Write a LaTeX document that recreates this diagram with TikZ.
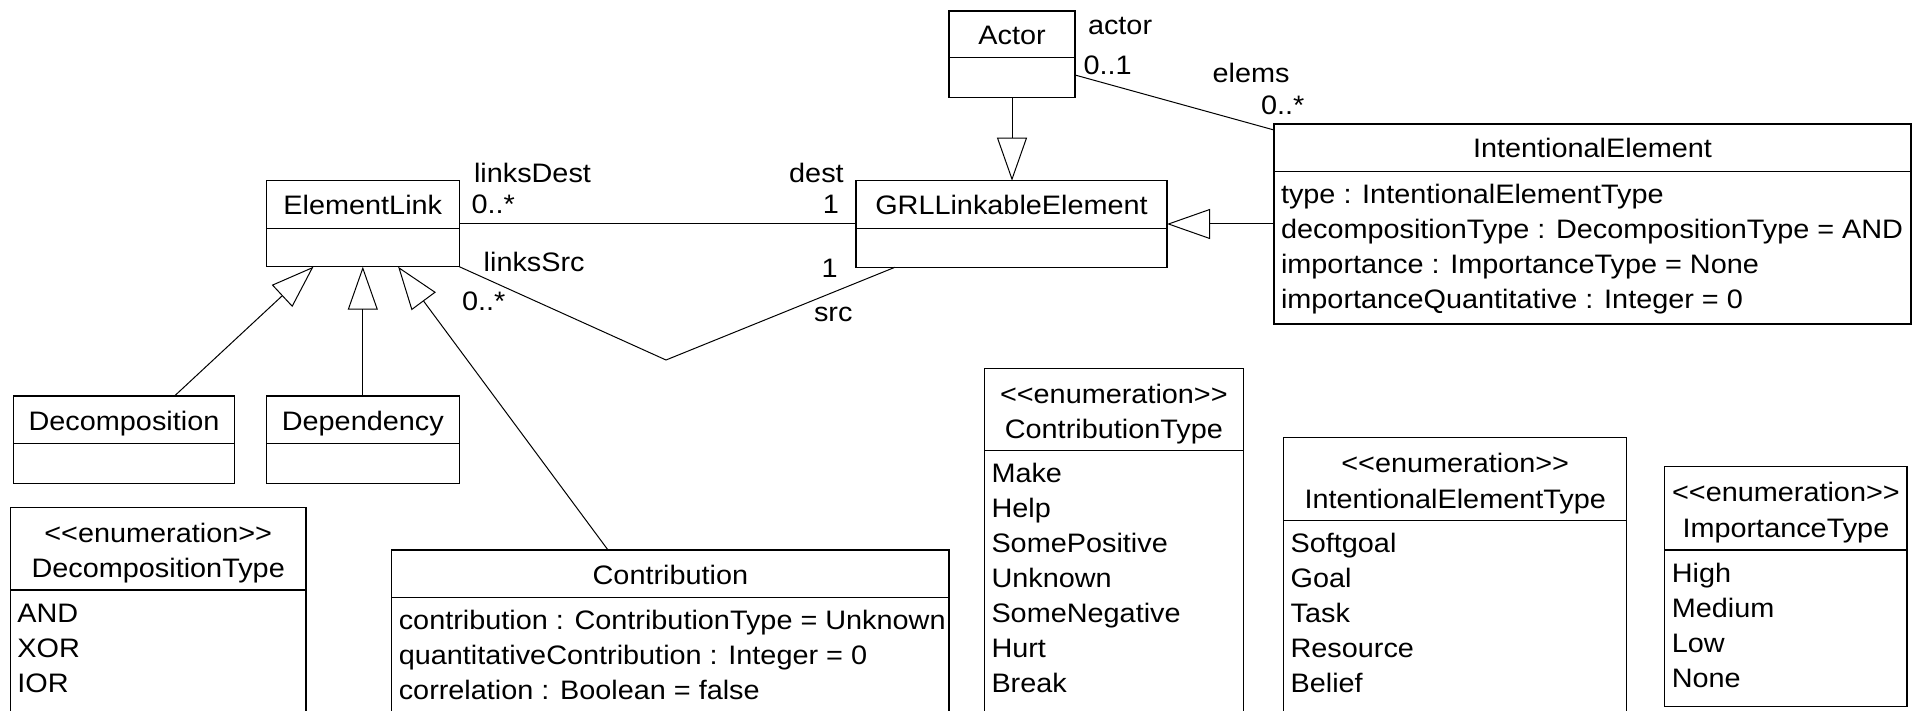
\documentclass[tikz,border=0pt]{standalone}
\usepackage{fontspec}
\setmainfont{Liberation Sans}[FakeStretch=1.08]
\usetikzlibrary{arrows.meta,calc}
\newcommand{\umlbox}[6]{%
  \node[cls, minimum width=#4pt, minimum height=#5pt] (#1) at (#2,#3) {};
  \draw[divl] ([yshift=-#6pt]#1.north west) -- ([yshift=-#6pt]#1.north east);}
\newcommand{\umlitems}[3]{%
  \foreach \t [count=\i] in {#3}
    \node[lbl] (#1-\i) at ([xshift=7pt, yshift={-(#2+32+35*(\i-1))}]#1.north west) {\t};}
\newcommand{\stereo}{<\kern0pt<enumeration>\kern0pt>}
\begin{document}
\begin{tikzpicture}[x=1pt,y=-1pt,
  font=\fontsize{26.7}{35}\selectfont,
  cls/.style={draw, line width=1.2pt, inner sep=0pt, outer sep=0pt, anchor=north west},
  divl/.style={line width=1.2pt},
  lbl/.style={inner sep=0pt, outer sep=0pt, anchor=base west},
  lblr/.style={inner sep=0pt, outer sep=0pt, anchor=base east},
  ttl/.style={inner sep=0pt, outer sep=0pt, anchor=base},
  gen/.style={line width=1pt, -{Triangle[open, length=43pt, width=30pt, line width=1pt]}},
  assoc/.style={line width=1pt}]
\useasboundingbox (0,0) rectangle (1921,711);
\clip (0,0) rectangle (1921,711);

% boxes
\umlbox{actor}{949}{11}{126}{86.5}{46.5}
\umlbox{ie}{1274}{124}{637}{200}{47.7}
\umlbox{grl}{856}{180.7}{311}{86.6}{47.6}
\umlbox{el}{266.3}{180.7}{193}{86}{47.6}
\umlbox{dec}{13.5}{396}{221}{87.3}{47.3}
\umlbox{dep}{266.3}{396}{193}{87.3}{47.3}
\umlbox{dt}{10.4}{507.3}{295.6}{240}{82.7}
\umlbox{con}{391.8}{550}{557.2}{200}{47.3}
\umlbox{ct}{984.5}{368.3}{258.7}{400}{82.4}
\umlbox{iet}{1283.6}{437.7}{343.2}{300}{83}
\umlbox{it}{1664.8}{466.7}{242.2}{240}{83.3}

% titles
\node[ttl] (actor-t) at ([yshift=-34pt]actor.north) {Actor};
\node[ttl] (ie-t) at ([yshift=-34pt]ie.north) {IntentionalElement};
\node[ttl] (grl-t) at ([yshift=-34pt]grl.north) {GRLLinkableElement};
\node[ttl] (el-t) at ([yshift=-34pt]el.north) {ElementLink};
\node[ttl] (dec-t) at ([yshift=-34pt]dec.north) {Decomposition};
\node[ttl] (dep-t) at ([yshift=-34pt]dep.north) {Dependency};
\node[ttl] (con-t) at ([yshift=-34pt]con.north) {Contribution};
\node[ttl] (dt-s) at ([yshift=-35pt]dt.north) {\stereo};
\node[ttl] (dt-t) at ([yshift=-70.5pt]dt.north) {DecompositionType};
\node[ttl] (ct-s) at ([yshift=-35pt]ct.north) {\stereo};
\node[ttl] (ct-t) at ([yshift=-70.5pt]ct.north) {ContributionType};
\node[ttl] (iet-s) at ([yshift=-35pt]iet.north) {\stereo};
\node[ttl] (iet-t) at ([yshift=-70.5pt]iet.north) {IntentionalElementType};
\node[ttl] (it-s) at ([yshift=-35pt]it.north) {\stereo};
\node[ttl] (it-t) at ([yshift=-70.5pt]it.north) {ImportanceType};

% compartments
\umlitems{ie}{47.7}{type : IntentionalElementType, decompositionType : DecompositionType = AND, importance : ImportanceType = None, importanceQuantitative : Integer = 0}
\umlitems{con}{47.3}{contribution : ContributionType = Unknown, quantitativeContribution : Integer = 0, correlation : Boolean = false}
\umlitems{dt}{82.7}{AND, XOR, IOR}
\umlitems{ct}{82.4}{Make, Help, SomePositive, Unknown, SomeNegative, Hurt, Break}
\umlitems{iet}{83}{Softgoal, Goal, Task, Resource, Belief}
\umlitems{it}{83.3}{High, Medium, Low, None}

% connectors
\draw[gen] (actor.south) -- (actor.south |- grl.north);
\draw[gen] (ie.west) -- (ie.west -| grl.east);
\draw[assoc] (el.east) -- (el.east -| grl.west);
\coordinate (srcbend) at (666,360);
\draw[assoc] (el.south east) -- (srcbend) -- ($(grl.south west)!0.125!(grl.south east)$);
\draw[assoc] ($(actor.north east)!0.74!(actor.south east)$) -- ($(ie.north west)+(0,6)$);
\draw[gen] ($(dec.north west)!0.7285!(dec.north east)$) -- ($(el.south west)!0.2445!(el.south east)$);
\draw[gen] (dep.north) -- (el.south);
\draw[gen] ($(con.north west)!0.388!(con.north east)$) -- ($(el.south west)!0.683!(el.south east)$);

% role and multiplicity labels
\node[lbl] (l-actor) at (1088,35) {actor};
\node[lbl] (m-actor) at (1083.5,75) {0..1};
\node[lbl] (l-elems) at (1212.6,83) {elems};
\node[lbl] (m-elems) at (1261,115) {0..*};
\node[lbl] (l-ldest) at (474,183) {linksDest};
\node[lbl] (m-ldest) at (471.5,214) {0..*};
\node[lblr] (l-dest) at (843.7,183) {dest};
\node[lblr] (m-dest) at (839,214) {1};
\node[lbl] (l-lsrc) at (483.7,271.7) {linksSrc};
\node[lblr] (m-src) at (837.6,277) {1};
\node[lbl] (m-lsrc) at (462,310.7) {0..*};
\node[lbl] (l-src) at (814,321.7) {src};
\end{tikzpicture}
\end{document}
